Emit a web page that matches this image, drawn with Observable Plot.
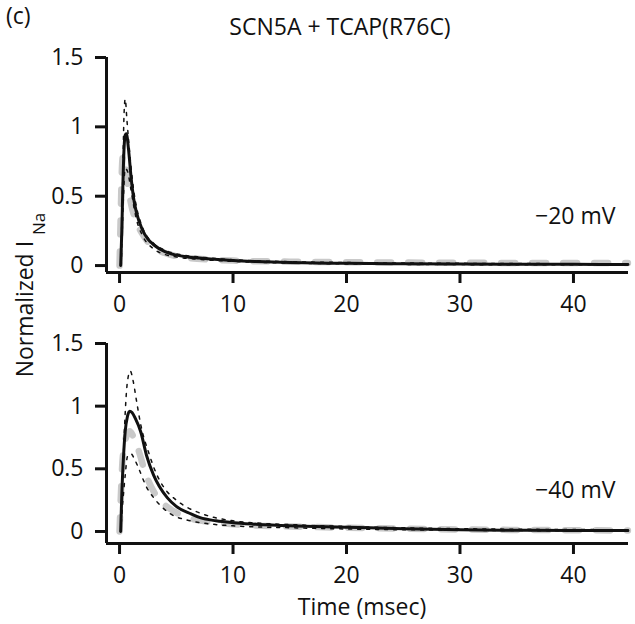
<!DOCTYPE html>
<html><head><meta charset="utf-8">
<script src="https://cdn.jsdelivr.net/npm/d3@7"></script>
<script src="https://cdn.jsdelivr.net/npm/@observablehq/plot@0.6"></script>
<style>
body{margin:0;background:#fff;font-family:"Open Sans",sans-serif;}
#wrap{position:relative;width:635px;height:624px;overflow:hidden;}
.abs{position:absolute;white-space:nowrap;color:#111;line-height:23px;}
</style></head>
<body><div id="wrap"></div>
<script>
// ---- data ----
const panelLabels = ["\u221220 mV", "\u221240 mV"];
const xTicks = [0, 10, 20, 30, 40];
const yTicks = [0, 0.5, 1, 1.5];

// -20 mV panel
const t20_mean = [0.1,0.2,0.3,0.4,0.5,0.6,0.8,1.0,1.25,1.5,2,2.5,3,4,5,6,7,8,10,12,15,20,25,30,35,40,44.8];
const v20_mean = [0,0.25,0.6,0.85,0.94,0.95,0.83,0.65,0.48,0.38,0.26,0.19,0.15,0.1,0.075,0.062,0.054,0.047,0.036,0.029,0.022,0.016,0.013,0.011,0.01,0.009,0.008];
const t20_gray = [0,0.1,0.2,0.3,0.45,0.7,1.0,1.5,2,2.5,3,4,5,6,8,10,15,20,30,44.8];
const v20_gray = [0,0.35,0.68,0.79,0.76,0.6,0.45,0.31,0.23,0.17,0.13,0.09,0.068,0.055,0.043,0.036,0.028,0.024,0.02,0.018];
const t20_hi = [0.1,0.25,0.4,0.5,0.65,0.8,1.0,1.25,1.5,2,3,4,5,7,10,15,20,30,44.8];
const v20_hi = [0,0.5,1.1,1.2,1.05,0.9,0.72,0.54,0.42,0.28,0.16,0.11,0.085,0.062,0.042,0.028,0.022,0.016,0.013];
const t20_lo = [0.15,0.3,0.5,0.7,1.0,1.25,1.5,2,3,4,5,7,10,15,20,30,44.8];
const v20_lo = [0,0.4,0.7,0.68,0.55,0.43,0.33,0.22,0.12,0.08,0.062,0.045,0.03,0.018,0.012,0.007,0.005];

// -40 mV panel
const t40_mean = [0.1,0.2,0.35,0.5,0.7,0.9,1.1,1.4,1.85,2.4,3,3.5,4.2,5,6.3,7.1,8.5,10,12,15,20,25,30,35,40,44.8];
const v40_mean = [0,0.3,0.6,0.8,0.92,0.96,0.95,0.9,0.8,0.6,0.45,0.36,0.27,0.2,0.14,0.11,0.085,0.07,0.058,0.045,0.034,0.022,0.013,0.01,0.008,0.008];
const t40_gray = [0,0.1,0.25,0.45,0.7,0.9,1.2,1.7,2.3,3,3.9,5,6,8,10,12,15,20,25,30,35,40,44.8];
const v40_gray = [0,0.25,0.55,0.7,0.78,0.8,0.76,0.64,0.46,0.32,0.22,0.15,0.11,0.075,0.058,0.048,0.04,0.03,0.022,0.016,0.012,0.01,0.008];
const t40_hi = [0.1,0.3,0.5,0.7,0.95,1.2,1.5,1.85,2.6,3.3,4,5,6,7,8,10,12,15,20,30,44.8];
const v40_hi = [0,0.5,0.95,1.2,1.28,1.2,1.04,0.86,0.62,0.45,0.34,0.25,0.19,0.15,0.12,0.085,0.068,0.055,0.04,0.022,0.014];
const t40_lo = [0.1,0.3,0.5,0.7,1.0,1.3,1.7,2.4,3,4.5,6,8,10,15,20,30,44.8];
const v40_lo = [0,0.25,0.45,0.6,0.62,0.58,0.5,0.35,0.27,0.14,0.09,0.06,0.045,0.03,0.02,0.01,0.005];

const xDomain = [-1.15, 44.85];
const FONT = "Open Sans";
const FS = 23;

function pts(t, v){ return t.map((d,i)=>({t:d, v:v[i]})); }

function panel(opts){
  const {yMin, marginTop, marginBottom, height, mean, gray, hi, lo, label, labelDy} = opts;
  return Plot.plot({
    width: 635, height, marginLeft: 106, marginRight: 7, marginTop, marginBottom,
    style: {fontFamily: FONT, fontSize: FS + "px", color: "#111", background: "#fff", overflow: "visible"},
    x: {domain: xDomain},
    y: {domain: [yMin, 1.5]},
    marks: [
      Plot.line(gray, {x:"t", y:"v", stroke:"#c9c9c9", strokeWidth:6.5, strokeDasharray:"14,17", curve:"monotone-x"}),
      Plot.line(hi, {x:"t", y:"v", stroke:"#111", strokeWidth:1.5, strokeDasharray:"3,6", curve:"monotone-x"}),
      Plot.line(lo, {x:"t", y:"v", stroke:"#111", strokeWidth:1.5, strokeDasharray:"3,6", curve:"monotone-x"}),
      Plot.line(mean, {x:"t", y:"v", stroke:"#111", strokeWidth:3, curve:"monotone-x"}),
      Plot.ruleX([xDomain[0]], {y1: yMin, y2: 1.5, stroke:"#111", strokeWidth:3}),
      Plot.ruleY([yMin], {x1: xDomain[0], x2: xDomain[1], stroke:"#111", strokeWidth:3}),
      Plot.axisY(yTicks, {tickSize: 11, strokeWidth: 3, tickPadding: 12, fontSize: FS, tickFormat: d => String(d), label: null}),
      Plot.axisX(xTicks, {tickSize: 11, strokeWidth: 3, tickPadding: 12, fontSize: FS, tickFormat: d => String(d), label: null}),
      Plot.text([label], {frameAnchor: "right", dx: -13, dy: labelDy, fontSize: FS, fill:"#111"})
    ]
  });
}

const wrap = document.getElementById("wrap");

const topPanel = panel({yMin: -0.05, marginTop: 57, marginBottom: 48, height: 320,
  mean: pts(t20_mean, v20_mean), gray: pts(t20_gray, v20_gray), hi: pts(t20_hi, v20_hi), lo: pts(t20_lo, v20_lo),
  label: panelLabels[0], labelDy: 52});
topPanel.style.position = "absolute"; topPanel.style.left = "0px"; topPanel.style.top = "0px";
wrap.appendChild(topPanel);

const botPanel = panel({yMin: -0.096, marginTop: 23, marginBottom: 81, height: 304,
  mean: pts(t40_mean, v40_mean), gray: pts(t40_gray, v40_gray), hi: pts(t40_hi, v40_hi), lo: pts(t40_lo, v40_lo),
  label: panelLabels[1], labelDy: 47});
botPanel.style.position = "absolute"; botPanel.style.left = "0px"; botPanel.style.top = "320px";
wrap.appendChild(botPanel);

function addText(html, css){
  const d = document.createElement("div");
  d.className = "abs"; d.innerHTML = html; Object.assign(d.style, css); wrap.appendChild(d);
}
addText("(c)", {left:"6px", top:"4px", fontSize: FS + "px"});
addText("SCN5A + TCAP(R76C)", {left:"340px", top:"15px", fontSize: FS + "px", transform:"translateX(-50%)"});
addText("Time (msec)", {left:"362px", top:"595px", fontSize: FS + "px", transform:"translateX(-50%)"});
addText("Normalized I <span style='font-size:17px;position:relative;top:12px'>Na</span>", {left:"24.5px", top:"295px", fontSize: FS + "px", transform:"translate(-50%,-50%) rotate(-90deg)"});
</script></body></html>
